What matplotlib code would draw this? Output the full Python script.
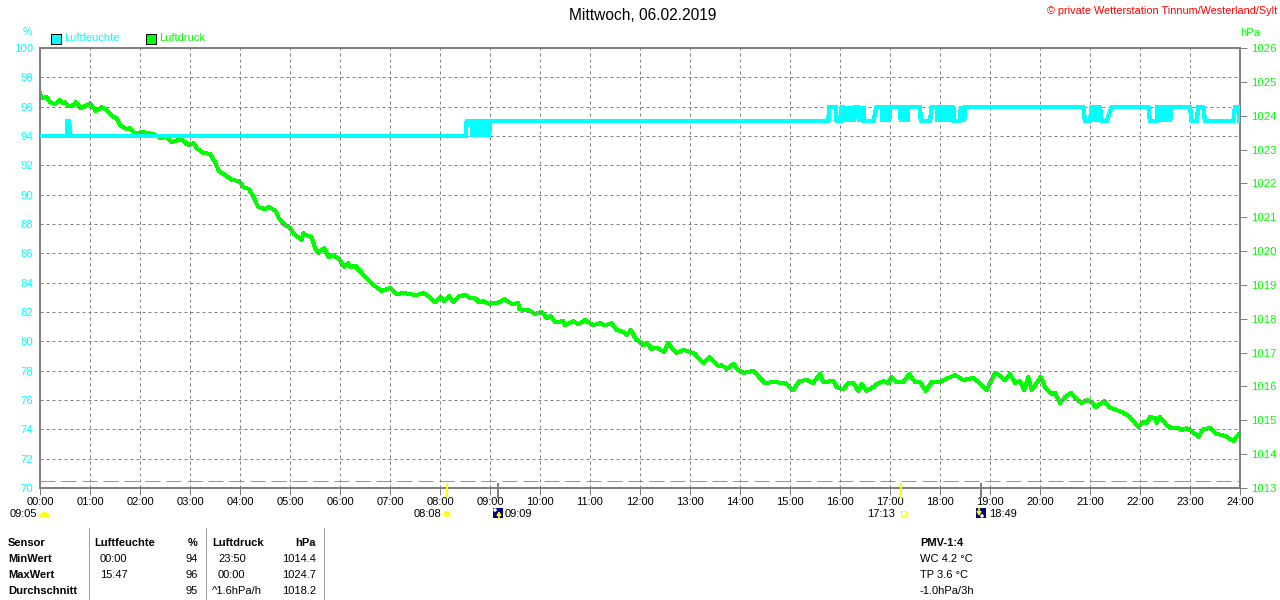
import matplotlib
matplotlib.use("Agg")
import matplotlib.pyplot as plt
from matplotlib.patches import Rectangle, Wedge, Circle
from matplotlib.transforms import blended_transform_factory

plt.rcParams['font.family'] = ['Liberation Sans', 'DejaVu Sans']
plt.rcParams['lines.scale_dashes'] = False

TITLE = "Mittwoch, 06.02.2019"
COPYRIGHT = "© private Wetterstation Tinnum/Westerland/Sylt"
hour_labels = ["%02d:00" % h for h in range(25)]
hum_ticks = list(range(70, 101, 2))
pres_ticks = list(range(1013, 1027))

pres_min = [0,2,8,12,18,23,28,30,34,40,43,49,56,60,67,74,80,88,92,96,104,108,114,122,136,144,152,158,170,178,184,188,
 196,204,210,215,224,230,239,244,251,256,262,270,275,283,287,294,300,305,314,316,320,326,330,334,341,346,352,359,365,
 370,372,378,384,392,400,410,420,428,436,444,452,460,466,474,481,485,491,496,503,511,516,522,527,532,539,552,557,566,
 574,575,581,586,594,602,608,613,618,628,630,640,646,654,664,672,678,686,692,700,704,709,715,724,728,734,740,749,754,
 758,764,772,780,786,796,803,814,818,824,832,838,844,856,864,870,880,894,904,911,920,928,936,940,952,956,964,970,976,
 982,986,992,998,1004,1012,1018,1022,1028,1036,1043,1050,1056,1063,1070,1080,1090,1098,1108,1120,1126,1136,1146,1152,
 1158,1164,1170,1176,1181,1186,1190,1201,1206,1214,1218,1224,1230,1237,1242,1250,1256,1262,1267,1277,1283,1292,1298,
 1308,1318,1324,1328,1332,1338,1340,1344,1352,1358,1366,1370,1376,1382,1390,1396,1404,1412,1422,1432,1438]
pres_val = [1024.67,1024.52,1024.55,1024.40,1024.34,1024.46,1024.37,1024.40,1024.28,1024.31,1024.40,1024.22,1024.31,
 1024.37,1024.14,1024.25,1024.17,1023.96,1023.93,1023.72,1023.60,1023.63,1023.46,1023.52,1023.46,1023.34,1023.37,
 1023.22,1023.31,1023.13,1023.19,1023.04,1022.90,1022.87,1022.63,1022.36,1022.22,1022.10,1022.07,1021.89,1021.83,
 1021.60,1021.30,1021.24,1021.30,1021.18,1020.95,1020.77,1020.68,1020.50,1020.33,1020.53,1020.47,1020.41,1020.09,
 1019.94,1020.09,1019.82,1019.88,1019.76,1019.53,1019.65,1019.53,1019.56,1019.41,1019.20,1019.00,1018.82,1018.91,
 1018.73,1018.76,1018.73,1018.70,1018.76,1018.67,1018.49,1018.64,1018.52,1018.67,1018.49,1018.67,1018.70,1018.61,
 1018.61,1018.49,1018.52,1018.44,1018.49,1018.58,1018.44,1018.46,1018.29,1018.26,1018.26,1018.14,1018.20,1018.02,
 1018.08,1017.90,1017.93,1017.81,1017.93,1017.84,1017.96,1017.81,1017.87,1017.81,1017.87,1017.67,1017.61,1017.52,
 1017.67,1017.40,1017.22,1017.28,1017.11,1017.14,1017.02,1017.28,1017.14,1016.99,1017.08,1017.02,1016.96,1016.69,
 1016.87,1016.60,1016.63,1016.52,1016.66,1016.49,1016.40,1016.46,1016.25,1016.10,1016.13,1016.10,1015.89,1016.16,
 1016.19,1016.10,1016.37,1016.13,1016.16,1015.98,1015.92,1016.10,1016.10,1015.87,1016.07,1015.87,1015.95,1016.07,
 1016.16,1016.10,1016.28,1016.13,1016.13,1016.37,1016.13,1016.13,1015.87,1016.13,1016.13,1016.25,1016.34,1016.19,
 1016.25,1016.13,1015.89,1016.40,1016.31,1016.19,1016.37,1016.10,1016.16,1015.89,1016.28,1015.89,1016.28,1015.98,
 1015.78,1015.81,1015.51,1015.69,1015.81,1015.66,1015.51,1015.60,1015.54,1015.39,1015.57,1015.39,1015.30,1015.25,
 1015.10,1014.80,1014.95,1014.92,1015.10,1015.07,1014.92,1015.10,1014.86,1014.77,1014.77,1014.71,1014.77,1014.68,
 1014.51,1014.74,1014.77,1014.60,1014.54,1014.39,1014.57]

# humidity samples, in stretches of the day: minute, percent
hum_samples = [
 (0,94),(32,94),(33,95),(35,95),(36,94),(511,94),
 (512,95),(518,95),(519,94),(520,95),(522,95),(523,94),(524,95),(526,95),(527,94),(528,95),(530,95),(531,94),
 (532,95),(534,95),(535,94),(536,95),(538,95),(539,94),(540,95),(946,95),
 (947,96),(955,96),(956,95),(961,95),
 (962,96),(964,96),(965,95),(966,96),(967,95),(968,96),(969,95),(970,96),(971,95),(972,96),(973,95),(974,96),
 (975,95),(976,96),(977,95),(978,96),(982,96),(983,95),(984,96),(985,95),(986,96),(987,95),(988,96),(989,95),(1000,95),
 (1004,96),(1010,96),(1011,95),(1012,96),(1014,96),(1015,95),(1016,96),(1018,96),(1019,95),(1020,96),(1032,96),
 (1033,95),(1034,96),(1036,96),(1037,95),(1038,96),(1040,96),(1041,95),(1042,96),(1056,96),(1057,95),(1068,95),
 (1070,96),(1076,96),(1077,95),(1078,96),(1080,96),(1081,95),(1082,96),(1084,96),(1085,95),(1086,96),(1088,96),
 (1089,95),(1090,96),(1092,96),(1093,95),(1094,96),(1096,96),(1097,95),(1104,95),(1105,96),(1106,95),(1108,96),
 (1109,95),(1110,96),(1252,96),(1254,95),(1260,95),(1262,96),(1264,96),(1265,95),(1266,96),(1268,96),(1269,95),
 (1270,96),(1272,96),(1274,95),(1280,95),(1286,96),(1330,96),(1332,95),(1340,95),(1341,96),(1342,96),(1344,95),
 (1345,96),(1346,96),(1348,95),(1349,96),(1350,96),(1352,95),(1353,96),(1354,96),(1356,95),(1358,96),(1380,96),
 (1382,95),(1388,95),(1390,96),(1396,96),(1398,95),(1432,95),(1434,96),(1438,96),(1439,95),(1440,95),
]
hum_min = [m for m, _ in hum_samples]
hum_val = [v for _, v in hum_samples]
std_pressure = 1013.2

sun_events = [8 * 60 + 8, 17 * 60 + 13]
moon_events = [9 * 60 + 9, 18 * 60 + 49]

rows = [
    ("Sensor", "Luftfeuchte", "%", "Luftdruck", "hPa", "PMV-1:4"),
    ("MinWert", "00:00", "94", "23:50", "1014.4", "WC 4.2 °C"),
    ("MaxWert", "15:47", "96", "00:00", "1024.7", "TP 3.6 °C"),
    ("Durchschnitt", "", "95", "^1.6hPa/h", "1018.2", "-1.0hPa/3h"),
]

CYAN = "#00ffff"
GREEN = "#00ff00"
GRAY = "#808080"
px = 0.72
W, H = 1280, 600

fig = plt.figure(figsize=(12.8, 6), dpi=100, facecolor="white")
ax = fig.add_axes([40 / W, 1 - 488 / H, 1200 / W, 440 / H])
axp = ax.twinx()
ax.set_zorder(axp.get_zorder() + 1)
ax.patch.set_visible(False)

ax.set_xlim(0, 1440)
ax.set_ylim(70, 100)
axp.set_ylim(1013, 1026)

ax.set_xticks([h * 60 for h in range(25)])
ax.set_xticklabels(hour_labels, fontsize=8, color="black")
ax.set_yticks(hum_ticks)
ax.set_yticklabels([str(v) for v in hum_ticks], fontsize=8.2, color=CYAN)
axp.set_yticks(pres_ticks)
axp.set_yticklabels([str(v) for v in pres_ticks], fontsize=8.2, color=GREEN)
ax.tick_params(axis='x', length=5, width=1 * px, color=GRAY, pad=1.5)
ax.tick_params(axis='y', length=0, pad=5)
axp.tick_params(axis='y', length=5, width=1 * px, color=GRAY, pad=3)

ax.grid(True, color=GRAY, lw=1 * px, dashes=(3 * px, 3 * px))
ax.set_axisbelow(True)
for a in (ax, axp):
    for s in a.spines.values():
        s.set_color(GRAY)
        s.set_linewidth(2 * px)

axp.axhline(std_pressure, color=GREEN, lw=1 * px, dashes=(15 * px, 6 * px), zorder=1)
axp.plot(pres_min, pres_val, color=GREEN, lw=3 * px, antialiased=False, solid_joinstyle="round", zorder=3)
ax.plot(hum_min, hum_val, color=CYAN, lw=3.3 * px, antialiased=False, solid_joinstyle="miter", zorder=4)

tr = blended_transform_factory(ax.transData, ax.transAxes)
for t in sun_events:
    ax.plot([t, t], [-9 / 440, 4 / 440], transform=tr, color="#ffff00", lw=2 * px, clip_on=False, zorder=6)
for t in moon_events:
    ax.plot([t, t], [-9 / 440, 4 / 440], transform=tr, color=GRAY, lw=2 * px, clip_on=False, zorder=6)

ov = fig.add_axes([0, 0, 1, 1], zorder=10)
ov.set_xlim(0, W)
ov.set_ylim(H, 0)
ov.axis("off")
ov.patch.set_visible(False)


def txt(x, y, s, color="black", size=8, ha="left", weight="normal"):
    ov.text(x, y, s, color=color, fontsize=size, ha=ha, va="center", fontweight=weight)


txt(643, 15, TITLE, size=11.2, ha="center")
txt(1277, 11, COPYRIGHT, color="#ff0000", size=7.8, ha="right")
txt(27, 32, "%", color=CYAN, size=7.5, ha="center")
txt(1240, 33, "hPa", color=GREEN, size=8.2)

for x0, c, label in [(50, CYAN, "Luftfeuchte"), (145, GREEN, "Luftdruck")]:
    ov.add_patch(Rectangle((x0 + 0.5, 33.5), 10, 10, facecolor=c, edgecolor="black", lw=1 * px))
    txt(x0 + 14, 38, label, color=c, size=8)

# sun and moon rows
txt(37, 514, "09:05", ha="right")
ov.add_patch(Wedge((44.5, 517), 5, 180, 360, facecolor="#ffff00", edgecolor="none"))
txt(441, 514, "08:08", ha="right")
ov.add_patch(Circle((447, 514), 3, facecolor="#ffff00", edgecolor="none"))
for dx, dy in [(-5, 0), (5, 0), (0, -5), (0, 5), (-4, -4), (4, -4), (-4, 4), (4, 4)]:
    ov.plot([447 + dx * .8, 447 + dx], [514 + dy * .8, 514 + dy], color="#ffff99", lw=1 * px)
txt(505, 514, "09:09")
txt(895, 514, "17:13", ha="right")
ov.add_patch(Rectangle((901, 511), 5, 5, facecolor="white", edgecolor="#ffff00", lw=1 * px))
txt(989, 514, "18:49")
for x0, up in [(493, True), (976, False)]:
    ov.add_patch(Rectangle((x0 - .5, 508), 10, 10, facecolor="#000080", edgecolor="none"))
    ov.add_patch(Circle((x0 + (2 if up else 6), 510 if up else 516), 1.8, facecolor="white", edgecolor="none"))
    ov.annotate("", xy=(x0 + 6 if up else x0 + 3, 511 if up else 516), xytext=(x0 + 6 if up else x0 + 3, 518 if up else 508),
                arrowprops=dict(arrowstyle="-|>,head_width=0.12,head_length=0.2", color="#ffff00", lw=1.2, shrinkA=0, shrinkB=0))

# summary table
for x in (88.5, 205.5, 323.5):
    ov.plot([x, x], [528, 600], color="#a0a0a0", lw=1 * px)
ys = [543, 559, 575, 591]
for i, (y, r) in enumerate(zip(ys, rows)):
    head = i == 0
    w = "bold" if head else "normal"
    txt(8, y, r[0], weight="bold", size=8)
    txt(94 if head else 100, y, r[1], weight=w, size=8)
    txt(198, y, r[2], weight=w, ha="right", size=8)
    txt(212 if (head or i == 3) else 218, y, r[3], weight=w, size=8)
    txt(316, y, r[4], weight=w, ha="right", size=8)
    txt(920, y, r[5], weight=w, size=8)

fig.savefig("out.png", dpi=100)
